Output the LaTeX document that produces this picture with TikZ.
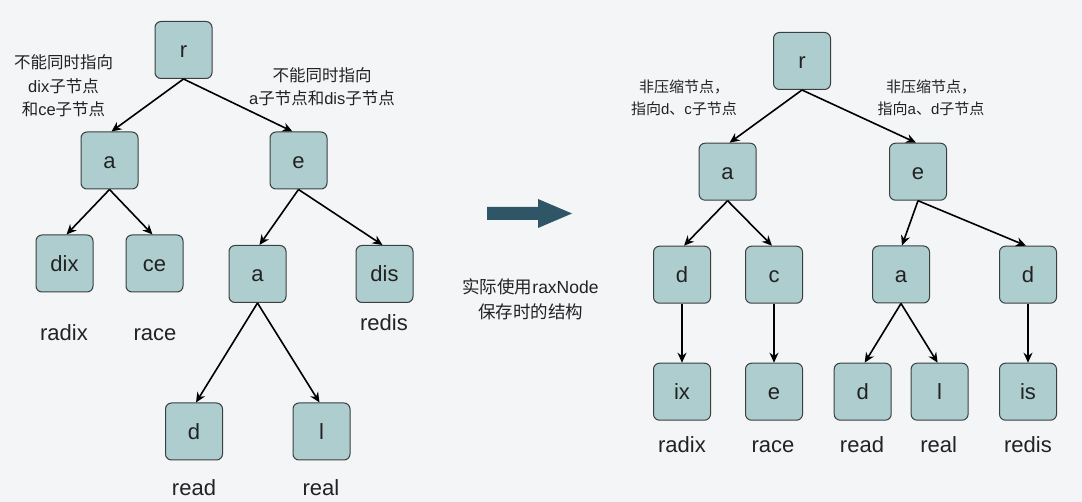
\documentclass[tikz,border=0pt]{standalone}
\usepackage{fontspec}
\setmainfont{Liberation Sans}
\newfontfamily\cjk{Noto Sans CJK SC}
\usetikzlibrary{arrows.meta}
\definecolor{bg}{HTML}{F4F5F7}
\definecolor{boxfill}{HTML}{AECDCF}
\definecolor{boxline}{HTML}{3A3F40}
\definecolor{bigarrow}{HTML}{2E5666}
\definecolor{txt}{HTML}{222222}
\begin{document}
\begin{tikzpicture}[x=1pt,y=-1pt,
  box/.style={draw=boxline, fill=boxfill, line width=1pt, rounded corners=6pt,
    minimum width=57pt, minimum height=57pt, inner sep=0pt, text=txt,
    font=\fontsize{22}{26}\selectfont, text height=16pt, text depth=0pt},
  word/.style={font=\fontsize{22}{26}\selectfont, inner sep=0pt, text=txt,
    text height=16pt, text depth=0pt},
  noteL/.style={font=\fontsize{16.5}{23.5}\selectfont, align=center, inner sep=0pt, text=txt},
  noteR/.style={font=\fontsize{15}{22}\selectfont, align=center, inner sep=0pt, text=txt},
  noteM/.style={font=\fontsize{17.5}{25}\selectfont, align=center, inner sep=0pt, text=txt},
  link/.style={-{Stealth[length=10pt,width=9pt]}, line width=1.6pt, black}]
\fill[bg] (0,0) rectangle (1082,502);
\useasboundingbox (0,0) rectangle (1082,502);

% ---------- left tree ----------
\node[box] (Lr)   at (183.5,50)   {r};
\node[box] (La)   at (109.5,160.5) {a};
\node[box] (Le)   at (298.5,160.5) {e};
\node[box] (Ldix) at (64.5,263.5)  {dix};
\node[box] (Lce)  at (154.5,263.5) {ce};
\node[box] (La2)  at (257.5,274)   {a};
\node[box] (Ldis) at (384.5,274)   {dis};
\node[box] (Ld)   at (194,431.5)   {d};
\node[box] (Ll)   at (321.5,431.5) {l};

\node[word] (Lradix) at (64,332.5)  {radix};
\node[word] (Lrace)  at (155,332.5) {race};
\node[word] (Lredis) at (384,322.5) {redis};
\node[word] (Lread)  at (194,487)   {read};
\node[word] (Lreal)  at (321,487)   {real};

\node[noteL] (Lnote1) at (63.5,86) {{\cjk 不能同时指向}\\dix{\cjk 子节点}\\{\cjk 和}ce{\cjk 子节点}};
\node[noteL] (Lnote2) at (322,86.5) {{\cjk 不能同时指向}\\a{\cjk 子节点和}dis{\cjk 子节点}};

\draw[link] (Lr.south) -- ([xshift=2pt]La.north);
\draw[link] (Lr.south) -- ([xshift=-6pt]Le.north);
\draw[link] (La.south) -- ([xshift=2pt]Ldix.north);
\draw[link] (La.south) -- ([xshift=-2pt]Lce.north);
\draw[link] (Le.south) -- ([xshift=2pt]La2.north);
\draw[link] (Le.south) -- ([xshift=-2pt]Ldis.north);
\draw[link] (La2.south) -- ([xshift=2pt]Ld.north);
\draw[link] (La2.south) -- ([xshift=-2pt]Ll.north);

% ---------- big arrow ----------
\fill[bigarrow] (487,207) -- (538,207) -- (538,199) -- (572,213.5) -- (538,228) -- (538,220) -- (487,220) -- cycle;
\node[noteM] (Mnote) at (530.5,299) {{\cjk 实际使用}raxNode\\{\cjk 保存时的结构}};

% ---------- right tree ----------
\node[box] (Rr)  at (802,61)      {r};
\node[box] (Ra)  at (727.6,171.7) {a};
\node[box] (Re)  at (918,171.7)   {e};
\node[box] (Rd1) at (682,274.7)   {d};
\node[box] (Rc)  at (774,274.7)   {c};
\node[box] (Ra2) at (901,274.5)   {a};
\node[box] (Rd2) at (1028,274.7)  {d};
\node[box] (Rix) at (682,391.7)   {ix};
\node[box] (Re2) at (774,391.7)   {e};
\node[box] (Rd3) at (862.7,391.7) {d};
\node[box] (Rl)  at (939.6,391.7) {l};
\node[box] (Ris) at (1028,391.7)  {is};

\node[word] (Rradix) at (682,445)   {radix};
\node[word] (Rrace)  at (773,445)   {race};
\node[word] (Rread)  at (862,445)   {read};
\node[word] (Rreal)  at (938.6,445) {real};
\node[word] (Rredis) at (1028,445)  {redis};

\node[noteR] (Rnote1) at (684,98) {{\cjk 非压缩节点，}\\{\cjk 指向}d{\cjk 、}c{\cjk 子节点}};
\node[noteR] (Rnote2) at (931,98) {{\cjk 非压缩节点，}\\{\cjk 指向}a{\cjk 、}d{\cjk 子节点}};

\draw[link] (Rr.south) -- ([xshift=2pt]Ra.north);
\draw[link] (Rr.south) -- ([xshift=-2pt]Re.north);
\draw[link] (Ra.south) -- ([xshift=2pt]Rd1.north);
\draw[link] (Ra.south) -- ([xshift=-2pt]Rc.north);
\draw[link] (Re.south) -- ([xshift=1pt]Ra2.north);
\draw[link] (Re.south) -- ([xshift=-2pt]Rd2.north);
\draw[link] (Rd1.south) -- (Rix.north);
\draw[link] (Rc.south) -- (Re2.north);
\draw[link] (Ra2.south) -- ([xshift=2pt]Rd3.north);
\draw[link] (Ra2.south) -- ([xshift=-2pt]Rl.north);
\draw[link] (Rd2.south) -- (Ris.north);
\end{tikzpicture}
\end{document}
